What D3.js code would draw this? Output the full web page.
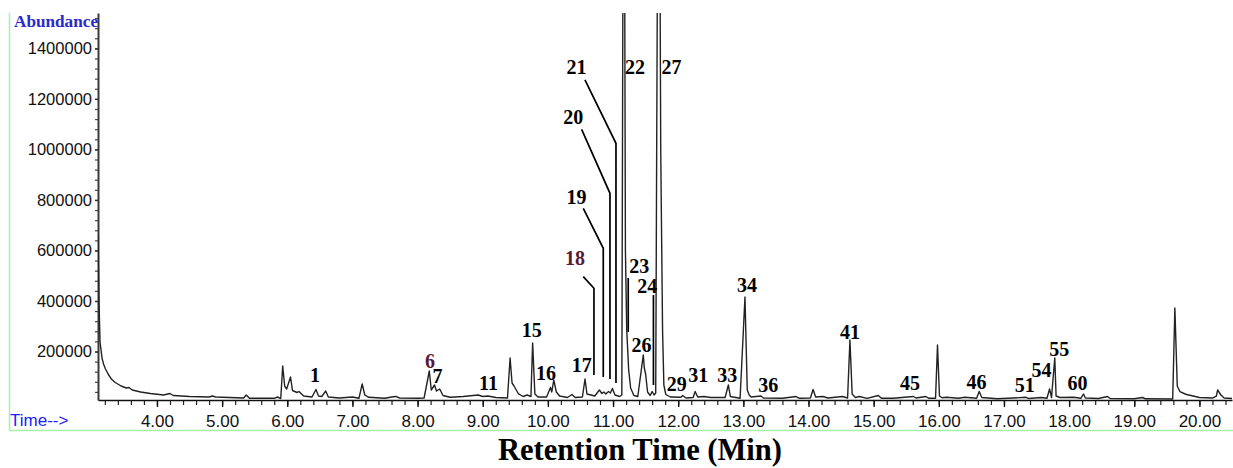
<!DOCTYPE html>
<html>
<head>
<meta charset="utf-8">
<script src="https://cdn.jsdelivr.net/npm/d3@7"></script>
<style>
body { margin: 0; background: #fff; }
svg text { font-family: "Liberation Sans", Arial, sans-serif; }
.peak { font-family: "Liberation Serif", "Times New Roman", serif; font-weight: bold; font-size: 20px; }
</style>
</head>
<body>
<div id="chart"></div>
<script>
// chromatogram (minutes, abundance)
const retentionTimes = [
  3.095, 3.110, 3.126, 3.157, 3.180, 3.210, 3.250, 3.300, 3.360, 3.450, 3.530, 3.570, 3.620, 3.750, 3.900,
  4.100, 4.200, 4.250, 4.500, 4.800, 4.850, 4.900, 5.000, 5.330, 5.370, 5.420, 5.800, 5.850, 5.900,
  5.930, 5.960, 5.990, 6.050, 6.080, 6.150, 6.180, 6.250, 6.380, 6.440, 6.480, 6.530, 6.590, 6.630,
  6.800, 7.000, 7.100, 7.150, 7.190, 7.250, 7.500, 7.600, 7.670, 7.720, 8.000, 8.100,
  8.180, 8.210, 8.260, 8.290, 8.340, 8.390, 8.500, 8.700, 8.930, 9.000, 9.080, 9.200, 9.380,
  9.420, 9.450, 9.480, 9.550, 9.620, 9.680, 9.740, 9.766, 9.800, 9.850, 9.980,
  10.040, 10.060, 10.090, 10.130, 10.180, 10.300, 10.370, 10.420, 10.530, 10.570, 10.600, 10.720,
  10.790, 10.830, 10.860, 10.890, 10.930, 10.960, 10.990, 11.030, 11.100, 11.135,
  11.165, 11.190, 11.210, 11.240, 11.270, 11.320, 11.380, 11.464, 11.480, 11.500, 11.530, 11.570,
  11.600, 11.630, 11.655, 11.701, 11.732, 11.760, 11.780, 11.810, 11.880,
  12.040, 12.070, 12.120, 12.230, 12.260, 12.300, 12.400, 12.500, 12.720, 12.770, 12.800, 12.950,
  13.025, 13.060, 13.090, 13.120, 13.270, 13.310, 13.600, 13.810, 13.860,
  14.030, 14.070, 14.110, 14.220, 14.300, 14.520, 14.600, 14.636, 14.670, 14.720, 14.780, 14.900,
  15.070, 15.120, 15.300, 15.610, 15.650, 15.800, 15.850, 15.950, 15.980,
  16.010, 16.050, 16.120, 16.300, 16.400, 16.580, 16.620, 16.660, 16.900,
  17.340, 17.380, 17.570, 17.660, 17.700, 17.730, 17.780, 17.800, 17.860,
  18.070, 18.180, 18.220, 18.250, 18.450, 18.590, 18.630, 19.000, 19.130, 19.170, 19.590,
  19.623, 19.660, 19.700, 19.800, 19.870, 20.000, 20.200, 20.260, 20.280, 20.330, 20.380, 20.500
];
const abundances = [
  661000, 404000, 237600, 174000, 150500, 130700, 110900, 91100, 77300, 63400, 55500, 57500, 47600, 39700, 33700,
  27800, 33700, 25800, 21900, 19900, 23800, 19900, 18700, 15900, 27800, 14700, 14700, 19900, 13900,
  142600, 63400, 51500, 99000, 45600, 37700, 41600, 23800, 19900, 49600, 23800, 21900, 43600, 19900,
  15900, 19900, 14700, 71300, 27800, 18700, 14700, 19900, 21900, 15900, 14700, 15900,
  122800, 47600, 67400, 43600, 51500, 25800, 18700, 21900, 27800, 21900, 23800, 17900, 15900,
  174300, 75300, 63400, 31800, 21900, 27800, 21900, 233600, 31800, 19900, 19900,
  57500, 39700, 87200, 39700, 23800, 17900, 29800, 17900, 19900, 91100, 31800, 23800,
  47600, 33700, 39700, 31800, 41600, 35700, 53500, 27800, 21900, 27800,
  3000000, 601800, 285100, 126800, 55500, 25800, 21900, 186100, 134700, 110900, 39700, 25800,
  41600, 27800, 35700, 3000000, 997600, 285100, 67400, 29800, 19900,
  18700, 25800, 15900, 17900, 41600, 19900, 21900, 17900, 17900, 67400, 21900, 14700,
  415700, 47600, 27800, 19900, 23800, 15900, 14700, 21900, 14700,
  15900, 49600, 19900, 21900, 15900, 21900, 15900, 245500, 31800, 17900, 21900, 14700,
  25800, 14700, 14700, 21900, 15900, 21900, 14700, 14700, 225700,
  23800, 16800, 18700, 14700, 18700, 14700, 41600, 17900, 12750,
  18700, 13900, 17900, 14700, 51500, 17900, 174300, 23800, 17900,
  18700, 14700, 31800, 15900, 13900, 21900, 13900, 12750, 17900, 12750, 12000,
  372200, 63400, 41600, 29800, 25800, 17900, 15900, 23800, 47600, 27800, 15900, 13900
];

const xTickValues = [4, 5, 6, 7, 8, 9, 10, 11, 12, 13, 14, 15, 16, 17, 18, 19, 20];
const yTickValues = [200000, 400000, 600000, 800000, 1000000, 1200000, 1400000];

// peak numbers: text, position (minutes, abundance of baseline)
const peakNames = ["1", "6", "7", "11", "15", "16", "17", "18", "19", "20", "21", "22", "23", "24",
  "26", "27", "29", "31", "33", "34", "36", "41", "45", "46", "51", "54", "55", "60"];
const peakNameTimes = [6.425, 8.19, 8.305, 9.088, 9.751, 9.97, 10.518, 10.415, 10.44, 10.39, 10.44, 11.336, 11.402, 11.525,
  11.438, 11.899, 11.976, 12.308, 12.753, 13.055, 13.382, 14.636, 15.556, 16.58, 17.32, 17.578, 17.85, 18.13];
const peakNameAbund = [81200, 134700, 75300, 47600, 257400, 87200, 120000, 541300, 782800, 1100000, 1298000, 1298000, 512400, 430600,
  199200, 1298000, 44800, 80400, 80400, 435000, 39700, 248300, 47600, 51500, 39700, 99000, 182200, 47600];
const maroonNames = ["6", "18"];

// leader lines from labels down to the peaks
const leaderTimes = [
  [10.543, 10.707, 10.707],
  [10.543, 10.850, 10.850],
  [10.518, 10.953, 10.953],
  [10.569, 11.045, 11.045],
  [11.233, 11.233],
  [11.620, 11.620]
];
const leaderAbund = [
  [496100, 450200, 107000],
  [766900, 608500, 99000],
  [1079600, 826300, 91100],
  [1274800, 1024200, 75300],
  [491000, 277200],
  [423700, 67400]
];

var width = 1233, height = 468;
var svg = d3.select("#chart").append("svg")
  .attr("width", width)
  .attr("height", height);

var x = d3.scaleLinear().domain([3.095, 20.5]).range([98, 1232]);
var y = d3.scaleLinear().domain([8000, 1540000]).range([400, 13]);

// light green frame
svg.append("path")
  .attr("d", "M9.5,13V430.5H1233")
  .attr("fill", "none")
  .attr("stroke", "#a8f0a8")
  .attr("stroke-width", 1.5);

svg.append("defs").append("clipPath").attr("id", "plotClip")
  .append("rect")
  .attr("x", 98).attr("y", 13)
  .attr("width", 1134).attr("height", 387);

// x axis: minor then major ticks
var xMinor = d3.range(16, 103).map(d => d / 5);
svg.append("g")
  .attr("transform", "translate(0,400)")
  .call(d3.axisBottom(x).tickValues(xMinor).tickSize(5).tickSizeOuter(0).tickFormat(""))
  .call(g => g.select(".domain").remove())
  .call(g => g.selectAll("line").attr("stroke", "#222").attr("stroke-width", 1.2));

var xAxis = svg.append("g")
  .attr("transform", "translate(0,400)")
  .call(d3.axisBottom(x).tickValues(xTickValues).tickSize(7).tickSizeOuter(0).tickPadding(8)
    .tickFormat(d3.format(".2f")));
xAxis.select(".domain").attr("stroke", "#111").attr("stroke-width", 1.6);
xAxis.selectAll("line").attr("stroke", "#111").attr("stroke-width", 1.4);
xAxis.selectAll("text")
  .attr("fill", "#111")
  .style("font-size", "17px")
  .style("font-family", "'Liberation Sans', Arial, sans-serif");

// y axis
var yMinor = d3.range(1, 39).map(d => d * 40000);
svg.append("g")
  .attr("transform", "translate(98,0)")
  .call(d3.axisLeft(y).tickValues(yMinor).tickSize(3).tickSizeOuter(0).tickFormat(""))
  .call(g => g.select(".domain").remove())
  .call(g => g.selectAll("line").attr("stroke", "#444").attr("stroke-width", 1.2));

var yAxis = svg.append("g")
  .attr("transform", "translate(98,0)")
  .call(d3.axisLeft(y).tickValues(yTickValues).tickSize(3).tickSizeOuter(0).tickPadding(3)
    .tickFormat(d3.format("d")));
yAxis.select(".domain").attr("stroke", "#3a3a3a").attr("stroke-width", 2);
yAxis.selectAll("line").attr("stroke", "#333").attr("stroke-width", 1.4);
yAxis.selectAll("text")
  .attr("fill", "#111")
  .style("font-size", "16.5px")
  .style("font-family", "'Liberation Sans', Arial, sans-serif");

// trace
var trace = retentionTimes.map((t, i) => [t, abundances[i]]);
var line = d3.line()
  .x(d => x(d[0]))
  .y(d => y(d[1]));
svg.append("path")
  .datum(trace)
  .attr("clip-path", "url(#plotClip)")
  .attr("fill", "none")
  .attr("stroke", "#222")
  .attr("stroke-width", 1.4)
  .attr("stroke-linejoin", "round")
  .attr("d", line);

// leader lines
leaderTimes.forEach((ts, i) => {
  var pts = ts.map((t, j) => [t, leaderAbund[i][j]]);
  svg.append("path")
    .datum(pts)
    .attr("fill", "none")
    .attr("stroke", "#000")
    .attr("stroke-width", 1.7)
    .attr("d", line);
});

// peak numbers
svg.selectAll("text.peak")
  .data(peakNames)
  .enter()
  .append("text")
  .attr("class", "peak")
  .attr("x", (d, i) => x(peakNameTimes[i]))
  .attr("y", (d, i) => y(peakNameAbund[i]))
  .attr("text-anchor", "middle")
  .attr("fill", d => maroonNames.includes(d) ? "#5a1838" : "#000")
  .text(d => d);

// axis titles
svg.append("text")
  .attr("x", 14).attr("y", 27)
  .attr("textLength", 84)
  .attr("lengthAdjust", "spacingAndGlyphs")
  .style("font-family", "'Liberation Serif', 'Times New Roman', serif")
  .style("font-weight", "bold")
  .style("font-size", "16px")
  .attr("fill", "#2a2acc")
  .text("Abundance");

svg.append("text")
  .attr("x", 10).attr("y", 426)
  .style("font-size", "17px")
  .attr("fill", "#2020ff")
  .text("Time-->");

svg.append("text")
  .attr("x", 640).attr("y", 460)
  .attr("text-anchor", "middle")
  .attr("textLength", 284)
  .attr("lengthAdjust", "spacingAndGlyphs")
  .style("font-family", "'Liberation Serif', 'Times New Roman', serif")
  .style("font-weight", "bold")
  .style("font-size", "32px")
  .attr("fill", "#000")
  .text("Retention Time (Min)");
</script>
</body>
</html>
